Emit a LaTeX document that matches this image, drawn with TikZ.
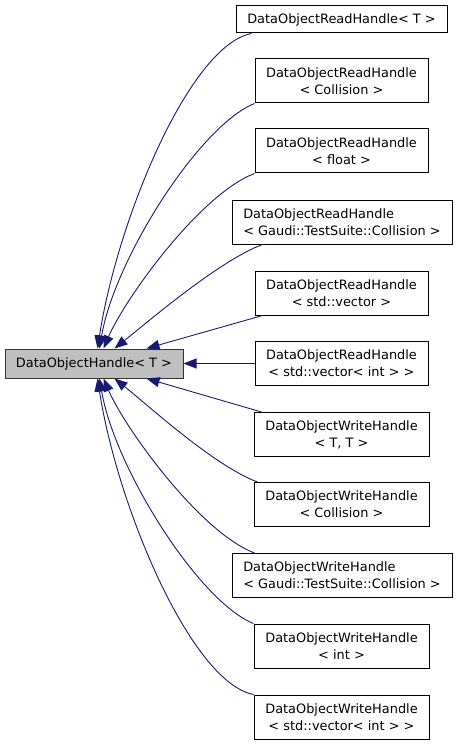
\documentclass[tikz,border=0pt]{standalone}
\usepackage{fontspec}
\setmainfont{DejaVu Sans}
\usepackage{tikz}
\usetikzlibrary{arrows.meta}
\definecolor{edgeColor}{RGB}{25,25,112}
\definecolor{baseFill}{RGB}{191,191,191}
\definecolor{baseLine}{RGB}{51,51,51}
\tikzstyle{diagram} = [x = 1pt, y = -1pt, every node/.style={font=\fontsize{12.9}{17}\selectfont}]
\tikzstyle{classBox} = [draw=black, fill=white, line width=1pt, inner sep=0pt, align=center, minimum width=173pt, minimum height=44pt]
\tikzstyle{baseBox} = [classBox, draw=baseLine, fill=baseFill, minimum width=178pt, minimum height=29pt]
\tikzstyle{inheritEdge} = [color=edgeColor, line width=0.9pt, {Triangle[length=13pt, width=10pt]}-]
\newcommand{\inheritCurve}[4]{\draw [inheritEdge] #1 .. controls +#2 and +#3 .. #4;}

\begin{document}
\begin{tikzpicture}[diagram]
  \useasboundingbox (0,0) rectangle (457,746);
  \node [baseBox] (handle) at (94,363.5) {DataObjectHandle< T >};

  \node [classBox, minimum width=211pt, minimum height=27pt] (readT) at (341.5,19.5) {DataObjectReadHandle< T >};
  \node [classBox] (readColl) at (341.5,81) {DataObjectReadHandle\\< Collision >};
  \node [classBox] (readFloat) at (341.5,151) {DataObjectReadHandle\\< float >};
  \node [classBox, minimum width=220pt, align=left] (readGaudi) at (342,222) {DataObjectReadHandle\\< Gaudi::TestSuite::Collision >};
  \node [classBox] (readVec) at (341.5,293) {DataObjectReadHandle\\< std::vector >};
  \node [classBox] (readVecInt) at (341.5,363.5) {DataObjectReadHandle\\< std::vector< int > >};
  \node [classBox, minimum width=175pt] (writeTT) at (341.5,434.5) {DataObjectWriteHandle\\< T, T >};
  \node [classBox, minimum width=175pt] (writeColl) at (341.5,504.5) {DataObjectWriteHandle\\< Collision >};
  \node [classBox, minimum width=220pt, align=left] (writeGaudi) at (342,575.5) {DataObjectWriteHandle\\< Gaudi::TestSuite::Collision >};
  \node [classBox, minimum width=175pt] (writeInt) at (341.5,646) {DataObjectWriteHandle\\< int >};
  \node [classBox, minimum width=175pt] (writeVecInt) at (341.5,717) {DataObjectWriteHandle\\< std::vector< int > >};

  % upper children
  \inheritCurve{([xshift=93]handle.north west)}{(20,-129)}{(-62,12)}{([xshift=16]readT.south west)}
  \inheritCurve{([xshift=95]handle.north west)}{(15,-89)}{(-55,22)}{(readColl.south west)}
  \inheritCurve{([xshift=99]handle.north west)}{(21,-49)}{(-55,21)}{(readFloat.south west)}
  \inheritCurve{([xshift=110]handle.north west)}{(35,-28)}{(-43,16)}{([xshift=31]readGaudi.south west)}
  \draw [inheritEdge] ([xshift=142]handle.north west) -- ([xshift=8]readVec.south west);
  \draw [inheritEdge] (handle.east) -- (readVecInt.west);

  % lower children
  \draw [inheritEdge] ([xshift=142]handle.south west) -- ([xshift=8]writeTT.north west);
  \inheritCurve{([xshift=110]handle.south west)}{(35,28)}{(-43,-16)}{([xshift=4]writeColl.north west)}
  \inheritCurve{([xshift=99]handle.south west)}{(21,49)}{(-55,-21)}{([xshift=23]writeGaudi.north west)}
  \inheritCurve{([xshift=95]handle.south west)}{(15,89)}{(-55,-22)}{(writeInt.north west)}
  \inheritCurve{([xshift=93]handle.south west)}{(20,129)}{(-62,-12)}{(writeVecInt.north west)}
\end{tikzpicture}
\end{document}
